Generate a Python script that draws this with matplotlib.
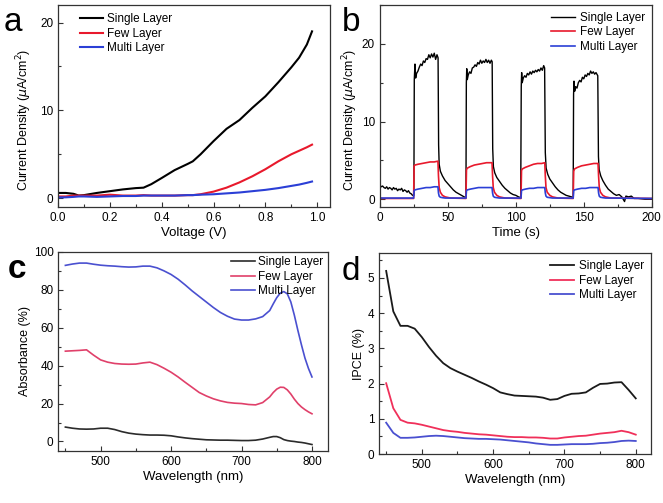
import numpy as np
import matplotlib
matplotlib.use('Agg')
import matplotlib.pyplot as plt
from matplotlib.ticker import MultipleLocator

plt.rcParams['font.family'] = ['Liberation Sans', 'DejaVu Sans']

labels = ['Single Layer', 'Few Layer', 'Multi Layer']

# (a) current density vs voltage
volt_a = [0, 0.03, 0.06, 0.08, 0.1, 0.15, 0.2, 0.25, 0.3, 0.33, 0.36, 0.4, 0.45, 0.5,
          0.52, 0.55, 0.6, 0.65, 0.7, 0.75, 0.8, 0.85, 0.9, 0.93, 0.96, 0.98]
single_a = [0.6, 0.6, 0.5, 0.3, 0.35, 0.6, 0.8, 1.0, 1.15, 1.2, 1.6, 2.3, 3.2, 3.9,
            4.2, 5.0, 6.5, 7.9, 8.9, 10.3, 11.6, 13.2, 14.9, 16.0, 17.5, 19.0]
few_a = [0.2, 0.2, 0.3, 0.3, 0.3, 0.3, 0.4, 0.3, 0.3, 0.35, 0.3, 0.3, 0.3, 0.35,
         0.35, 0.45, 0.75, 1.2, 1.8, 2.5, 3.3, 4.2, 5.0, 5.4, 5.8, 6.1]
multi_a = [0.1, 0.1, 0.15, 0.2, 0.2, 0.15, 0.2, 0.25, 0.25, 0.3, 0.3, 0.3, 0.3, 0.35,
           0.35, 0.4, 0.45, 0.55, 0.65, 0.8, 0.95, 1.15, 1.4, 1.55, 1.75, 1.9]

# (b) on/off photocurrent vs time
time_single_b = [0, 1, 2, 3, 4, 5, 6, 7, 8, 9, 10, 11, 12, 13, 14, 15, 16, 17, 18, 19, 20, 21, 22, 23, 24, 25,
                 25.3, 25.8, 26.3, 27, 28, 29, 30, 31, 32, 33, 34, 35, 36, 37, 38, 39, 40, 41, 42, 42.8,
                 43.2, 43.6, 44.5, 46, 48, 50, 52, 54, 56, 58, 60, 62, 63.3,
                 63.6, 63.9, 64.3, 65, 66, 67, 68, 69, 70, 71, 72, 73, 74, 75, 76, 77, 78, 79, 80, 81, 82, 82.6,
                 83, 83.5, 84.5, 86, 88, 90, 92, 94, 96, 98, 100, 102, 103.6,
                 104, 104.3, 104.7, 105.5, 106.5, 107.5, 108.5, 109.5, 110.5, 111.5, 112.5, 113.5, 114.5,
                 115.5, 116.5, 117.5, 118.5, 119.5, 120.5, 121.2,
                 121.7, 122.3, 123.5, 125, 127, 129, 131, 133, 135, 137, 139, 141, 142.2,
                 142.5, 142.8, 143.3, 144, 145, 146, 147, 148, 149, 150, 151, 152, 153, 154, 155, 156, 157,
                 158, 159, 160.3,
                 160.8, 161.3, 162.5, 164, 166, 168, 170, 172, 174, 176, 178, 180, 181, 183, 185, 187, 190,
                 195, 200]
single_b = [1.8, 1.6, 1.7, 1.5, 1.4, 1.6, 1.3, 1.5, 1.4, 1.2, 1.5, 1.3, 1.4, 1.1, 1.3, 1.2, 1.4, 1.0, 1.2,
            1.1, 0.9, 1.1, 0.8, 0.7, 0.5, 0.5,
            15.4, 17.4, 15.6, 16.2, 16.5, 17.0, 17.4, 17.2, 17.8, 17.6, 18.1, 18.0, 18.6, 18.2, 18.7, 18.3,
            18.8, 18.0, 18.6, 18.2,
            7.0, 4.5, 3.6, 3.0, 2.4, 2.0, 1.6, 1.2, 0.9, 0.7, 0.5, 0.3, 0.2,
            15.0, 16.8, 15.4, 16.0, 16.4, 16.2, 16.9, 17.0, 17.3, 17.1, 17.6, 17.4, 17.9, 17.5, 17.8, 17.6,
            18.0, 17.6, 17.9, 17.5, 17.9, 17.7,
            6.5, 4.2, 3.4, 2.8, 2.3, 1.8, 1.4, 1.1, 0.8, 0.6, 0.5, 0.3, 0.2,
            14.5, 16.3, 15.0, 15.6, 15.9, 15.7, 16.2, 16.0, 16.4, 16.1, 16.5, 16.3, 16.6, 16.4, 16.7, 16.5,
            16.9, 16.6, 17.2, 16.9,
            6.0, 4.0, 3.2, 2.6, 2.1, 1.6, 1.2, 0.9, 0.7, 0.5, 0.4, 0.3, 0.2,
            13.5, 15.2, 13.9, 14.5, 14.3, 15.0, 15.3, 15.1, 15.7, 15.5, 16.0, 15.8, 16.2, 16.0, 16.5, 16.2,
            16.4, 16.1, 16.3, 15.9,
            5.5, 3.8, 3.0, 2.4, 1.8, 1.3, 1.0, 0.7, 0.5, 0.6, 0.3, -0.3, 0.4, 0.3, 0.4, 0.1, 0.1,
            0.0, 0.0]

time_layers_b = [0,
                 24.8, 25.2, 25.8, 28, 31, 34, 37, 40, 42.7, 43.1, 43.6, 44.5, 46, 48, 52,
                 63.3, 63.7, 64.3, 66.5, 69.5, 72.5, 75.5, 78.5, 82.5, 82.9, 83.4, 84.3, 86, 88, 92,
                 103.8, 104.2, 104.8, 107, 110, 113, 116, 119, 121.3, 121.7, 122.2, 123.1, 125, 127, 131,
                 142.2, 142.6, 143.2, 145.4, 148.4, 151.4, 154.4, 157.4, 160.5, 160.9, 161.4, 162.3, 164, 166, 170,
                 200]
few_b = [0.1,
         0.1, 4.3, 4.4, 4.5, 4.6, 4.7, 4.8, 4.8, 4.9, 3.0, 1.5, 0.9, 0.5, 0.3, 0.15,
         0.1, 3.8, 4.0, 4.2, 4.4, 4.5, 4.6, 4.7, 4.7, 3.0, 1.5, 0.9, 0.5, 0.3, 0.15,
         0.1, 3.7, 3.9, 4.1, 4.3, 4.5, 4.6, 4.6, 4.7, 3.0, 1.5, 0.9, 0.5, 0.3, 0.15,
         0.1, 3.6, 3.9, 4.1, 4.3, 4.4, 4.5, 4.6, 4.6, 3.0, 1.5, 0.9, 0.5, 0.3, 0.15,
         0.1]
multi_b = [0.15,
           0.15, 1.1, 1.2, 1.3, 1.4, 1.5, 1.5, 1.6, 1.6, 0.8, 0.4, 0.25, 0.2, 0.15, 0.15,
           0.15, 1.1, 1.2, 1.3, 1.4, 1.5, 1.5, 1.5, 1.5, 0.8, 0.4, 0.25, 0.2, 0.15, 0.15,
           0.15, 1.1, 1.2, 1.3, 1.4, 1.4, 1.5, 1.5, 1.5, 0.8, 0.4, 0.25, 0.2, 0.15, 0.15,
           0.15, 1.1, 1.2, 1.3, 1.4, 1.4, 1.5, 1.5, 1.5, 0.8, 0.4, 0.25, 0.2, 0.15, 0.15,
           0.1]

# (c) absorbance spectra
wl_c = [450, 460, 470, 480, 490, 500, 510, 520, 530, 540, 550, 560, 570, 580, 590, 600, 610, 620,
        630, 640, 650, 660, 670, 680, 690, 700, 710, 720, 730, 740,
        745, 750, 755, 760, 765, 770, 775, 780, 785, 790, 795, 800]
multi_c = [92.8, 93.5, 94.0, 94.0, 93.4, 92.9, 92.6, 92.4, 92.1, 91.9, 92.0, 92.4, 92.4, 91.5, 89.9,
           88.0, 85.5, 82.5, 79.3, 76.4, 73.5, 70.6, 68.0, 66.0, 64.5, 64.0, 64.0, 64.6, 65.8, 69.0,
           72.5, 75.8, 78.2, 79.0, 77.8, 73.5, 66.5, 58.5, 51.0, 44.0, 38.5, 34.0]
few_c = [47.6, 47.8, 48.0, 48.3, 45.5, 43.0, 41.8, 41.1, 40.8, 40.7, 40.8, 41.4, 41.8, 40.5, 38.6,
         36.5, 34.0, 31.2, 28.5, 25.8, 24.0, 22.5, 21.4, 20.6, 20.2, 20.0, 19.5, 19.3, 20.5, 23.5,
         25.8, 27.6, 28.6, 28.5, 27.2, 25.0, 22.3, 20.0, 18.2, 16.8, 15.6, 14.6]
single_c = [7.6, 7.0, 6.6, 6.5, 6.6, 7.0, 7.0, 6.3, 5.2, 4.4, 3.9, 3.6, 3.4, 3.4, 3.3,
            3.0, 2.4, 1.9, 1.5, 1.2, 0.9, 0.8, 0.7, 0.7, 0.6, 0.5, 0.5, 0.7, 1.3, 2.2,
            2.6, 2.6, 2.0, 1.0, 0.5, 0.2, 0.0, -0.3, -0.5, -0.8, -1.2, -1.6]

# (d) IPCE spectra
wl_d = [450, 460, 470, 480, 490, 500, 510, 520, 530, 540, 550, 560, 570, 580, 590, 600, 610, 620,
        630, 640, 650, 660, 670, 680, 690, 700, 710, 720, 730, 740, 750, 760, 770, 780, 790, 800]
single_d = [5.2, 4.05, 3.64, 3.64, 3.56, 3.32, 3.04, 2.79, 2.58, 2.44, 2.34, 2.25, 2.16, 2.06, 1.97,
            1.87, 1.75, 1.70, 1.66, 1.65, 1.64, 1.63, 1.60, 1.54, 1.56, 1.65, 1.71, 1.72, 1.75, 1.88,
            1.99, 2.00, 2.03, 2.04, 1.82, 1.58]
few_d = [2.01, 1.30, 0.97, 0.89, 0.87, 0.83, 0.78, 0.73, 0.68, 0.65, 0.63, 0.60, 0.58, 0.56, 0.55,
         0.53, 0.51, 0.49, 0.48, 0.48, 0.47, 0.47, 0.46, 0.44, 0.44, 0.47, 0.49, 0.51, 0.52, 0.55,
         0.58, 0.60, 0.62, 0.66, 0.62, 0.55]
multi_d = [0.89, 0.60, 0.46, 0.46, 0.47, 0.49, 0.51, 0.52, 0.51, 0.49, 0.47, 0.45, 0.44, 0.43, 0.43,
           0.42, 0.41, 0.39, 0.37, 0.35, 0.33, 0.30, 0.28, 0.26, 0.26, 0.27, 0.28, 0.28, 0.28, 0.29,
           0.31, 0.32, 0.34, 0.37, 0.38, 0.37]

dpi = 100
fig = plt.figure(figsize=(663 / dpi, 503 / dpi), dpi=dpi)
ax_a = fig.add_axes([0.0875, 0.5885, 0.4105, 0.4015])
ax_b = fig.add_axes([0.573, 0.5885, 0.410, 0.4015])
ax_c = fig.add_axes([0.088, 0.1034, 0.407, 0.3962])
ax_d = fig.add_axes([0.5717, 0.0974, 0.4098, 0.399])

cols_ab = ['black', '#e8192c', '#2b3fd6']
cols_cd = ['#2b2b2b', '#e0406a', '#4a50d0']

for y, c, l in zip([single_a, few_a, multi_a], cols_ab, labels):
    ax_a.plot(volt_a, y, color=c, lw=1.5, label=l)
ax_b.plot(time_single_b, single_b, color=cols_ab[0], lw=1.0, label=labels[0])
ax_b.plot(time_layers_b, few_b, color=cols_ab[1], lw=1.2, label=labels[1])
ax_b.plot(time_layers_b, multi_b, color=cols_ab[2], lw=1.2, label=labels[2])
for y, c, l in zip([single_c, few_c, multi_c], cols_cd, labels):
    ax_c.plot(wl_c, y, color=c, lw=1.2, label=l)
for y, c, l in zip([single_d, few_d, multi_d], ['#1a1a1a', '#f0305a', '#4a50d0'], labels):
    ax_d.plot(wl_d, y, color=c, lw=1.3, label=l)

ax_a.set_xlim(0, 1.05)
ax_a.set_ylim(-1, 22)
ax_a.xaxis.set_minor_locator(MultipleLocator(0.1))
ax_a.yaxis.set_major_locator(MultipleLocator(10))
ax_a.yaxis.set_minor_locator(MultipleLocator(5))
ax_a.set_xticks([0, 0.2, 0.4, 0.6, 0.8, 1.0])
ax_a.set_xticklabels(['0.0', '0.2', '0.4', '0.6', '0.8', '1.0'])
ax_a.set_xlabel('Voltage (V)')
ax_a.set_ylabel('Current Density ($\\mu$A/cm$^2$)')

ax_b.set_xlim(0, 200)
ax_b.set_ylim(-1, 25)
ax_b.xaxis.set_major_locator(MultipleLocator(50))
ax_b.xaxis.set_minor_locator(MultipleLocator(25))
ax_b.yaxis.set_major_locator(MultipleLocator(10))
ax_b.yaxis.set_minor_locator(MultipleLocator(5))
ax_b.set_xlabel('Time (s)')
ax_b.set_ylabel('Current Density ($\\mu$A/cm$^2$)')

ax_c.set_xlim(440, 823)
ax_c.set_ylim(-5, 100)
ax_c.xaxis.set_major_locator(MultipleLocator(100))
ax_c.xaxis.set_minor_locator(MultipleLocator(50))
ax_c.yaxis.set_major_locator(MultipleLocator(20))
ax_c.yaxis.set_minor_locator(MultipleLocator(10))
ax_c.set_xlabel('Wavelength (nm)')
ax_c.set_ylabel('Absorbance (%)')

ax_d.set_xlim(440, 821)
ax_d.set_ylim(0, 5.7)
ax_d.xaxis.set_major_locator(MultipleLocator(100))
ax_d.xaxis.set_minor_locator(MultipleLocator(50))
ax_d.yaxis.set_major_locator(MultipleLocator(1))
ax_d.yaxis.set_minor_locator(MultipleLocator(0.5))
ax_d.set_xlabel('Wavelength (nm)')
ax_d.set_ylabel('IPCE (%)')

for ax in [ax_a, ax_b, ax_c, ax_d]:
    ax.tick_params(which='both', direction='in', labelsize=8.5, colors='#333333', labelcolor='black')
    ax.tick_params(which='major', length=3.5, width=0.8)
    ax.tick_params(which='minor', length=2, width=0.8)
    for s in ax.spines.values():
        s.set_color('#333333')
        s.set_linewidth(0.9)
    ax.xaxis.label.set_size(9.5)
    ax.yaxis.label.set_size(9)
    ax.xaxis.labelpad = 2
    ax.yaxis.labelpad = 2

# the upper y labels sit a little low, clear of the panel letters
ax_a.yaxis.set_label_coords(-0.088, 0.43)
ax_b.yaxis.set_label_coords(-0.072, 0.43)

ax_a.legend(loc='upper left', frameon=False, fontsize=8.5, handlelength=2.0, handletextpad=0.3,
            borderaxespad=0.3, labelspacing=0.2, bbox_to_anchor=(0.05, 1.0))
ax_b.legend(loc='upper right', frameon=False, fontsize=8.5, handlelength=2.0, handletextpad=0.4,
            borderaxespad=0.2, labelspacing=0.2)
ax_c.legend(loc='upper right', frameon=False, fontsize=8.5, handlelength=2.0, handletextpad=0.3,
            borderaxespad=0.0, labelspacing=0.2)
ax_d.legend(loc='upper right', frameon=False, fontsize=8.5, handlelength=2.0, handletextpad=0.4,
            borderaxespad=0.2, labelspacing=0.2)

fig.text(0.005, 0.955, 'a', fontsize=24, va='center')
fig.text(0.515, 0.955, 'b', fontsize=24, va='center')
fig.text(0.012, 0.465, 'c', fontsize=24, va='center', fontweight='bold')
fig.text(0.515, 0.460, 'd', fontsize=24, va='center')

fig.savefig('out.png', dpi=dpi)
